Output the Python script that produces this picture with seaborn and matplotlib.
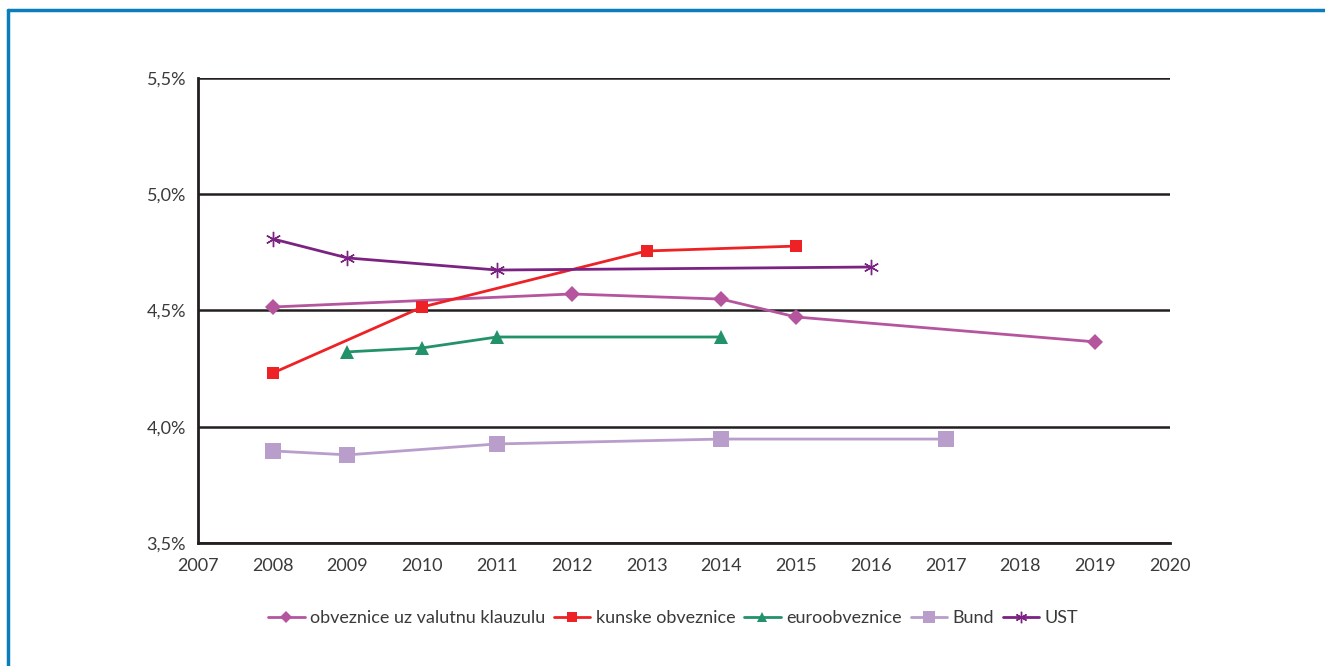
import numpy as np
import pandas as pd
import seaborn as sns
import matplotlib.pyplot as plt
from matplotlib.lines import Line2D
from matplotlib.ticker import FuncFormatter

# Daten (Rendite in %)
val_godine = [2008, 2012, 2014, 2015, 2019]
val_prinos = [4.515, 4.571, 4.549, 4.472, 4.365]

kun_godine = [2008, 2010, 2013, 2015]
kun_prinos = [4.231, 4.515, 4.756, 4.777]

eur_godine = [2009, 2010, 2011, 2014]
eur_prinos = [4.322, 4.339, 4.386, 4.386]

bund_godine = [2008, 2009, 2011, 2014, 2017]
bund_prinos = [3.896, 3.879, 3.926, 3.947, 3.947]

ust_godine = [2008, 2009, 2011, 2016]
ust_prinos = [4.808, 4.726, 4.674, 4.687]

serien = [
    ("obveznice uz valutnu klauzulu", val_godine, val_prinos, "#B5559E", "D", 8.5),
    ("kunske obveznice", kun_godine, kun_prinos, "#EE2124", "s", 9),
    ("euroobveznice", eur_godine, eur_prinos, "#23926A", "^", 10),
    ("Bund", bund_godine, bund_prinos, "#B99DCB", "s", 11),
    ("UST", ust_godine, ust_prinos, "#7B2382", (6, 2, 0), 11),
]

sns.set_style("white")
plt.rcParams['font.family'] = ['Lato', 'DejaVu Sans']

fig = plt.figure(figsize=(13.25, 6.66), dpi=100)
ax = fig.add_axes([0.1494, 0.1847, 0.7336, 0.6982])

for name, x, y, col, mk, ms in serien:
    sns.lineplot(x=x, y=y, ax=ax, color=col, marker=mk, markersize=ms,
                 markeredgecolor=col, markeredgewidth=1.0 if mk == (6, 2, 0) else 0,
                 linewidth=2, label=name, legend=False)

ax.set_xlim(2007, 2020)
ax.set_ylim(3.5, 5.5)
ax.set_xticks(range(2007, 2021))
ax.set_yticks([3.5, 4.0, 4.5, 5.0, 5.5])
ax.yaxis.set_major_formatter(FuncFormatter(lambda v, p: f"{v:.1f}%".replace(".", ",")))
ax.grid(axis='y', color='#231F20', linewidth=1.8)
ax.set_axisbelow(True)

for s in ['top', 'right']:
    ax.spines[s].set_visible(False)
for s in ['left', 'bottom']:
    ax.spines[s].set_color('#231F20')
    ax.spines[s].set_linewidth(2)

ax.tick_params(axis='both', direction='out', length=5, width=2, color='#231F20',
               labelsize=13, labelcolor='#3a3a3a')
ax.tick_params(axis='x', pad=6)

# Legende unten
handles, labels = ax.get_legend_handles_labels()
fig.legend(handles, labels, loc='center', bbox_to_anchor=(0.508, 0.072), ncol=5,
           frameon=False, fontsize=13, handlelength=2.0, handletextpad=0.3,
           columnspacing=0.5, markerscale=0.75, labelcolor='#3a3a3a')

# Rahmen (blau, links und oben)
fig.add_artist(Line2D([0.0064, 0.0064], [0, 0.985], transform=fig.transFigure,
                      color='#0A7DBA', linewidth=2.5))
fig.add_artist(Line2D([0.0064, 1.0], [0.985, 0.985], transform=fig.transFigure,
                      color='#0A7DBA', linewidth=2.5))

fig.savefig("out.png", dpi=100)
